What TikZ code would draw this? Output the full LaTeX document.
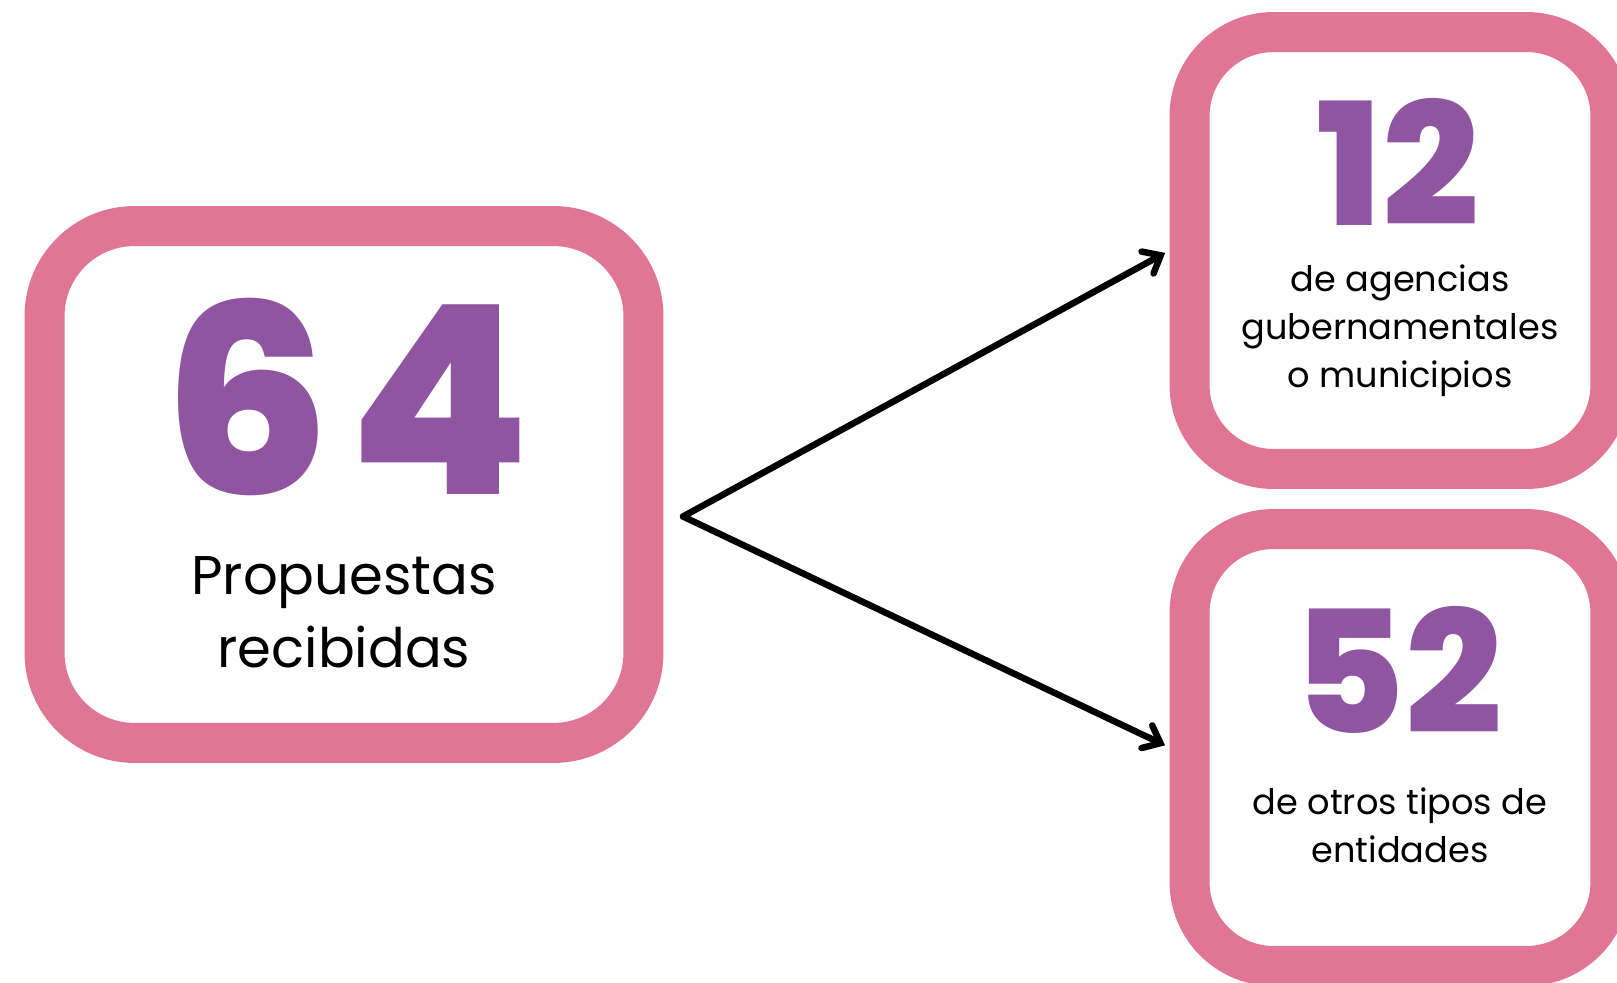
\documentclass[tikz,border=0pt]{standalone}
\usepackage{fontspec}
\setmainfont{Poppins}
\newfontfamily\numfont{Poppins ExtraBold}
\usetikzlibrary{arrows.meta}
\definecolor{cardpink}{HTML}{E07694}
\definecolor{numpurple}{HTML}{8F55A1}

\begin{document}
\begin{tikzpicture}[line cap=round, line join=round, x=0.02cm, y=-0.02cm,
    card/.style={draw=cardpink, line width=0.8cm, fill=white},
    bignum/.style={text=numpurple, anchor=base, inner sep=0pt},
    caption/.style={align=center, anchor=base, inner sep=0pt},
    branch/.style={line width=0.13cm, -{Straight Barb[length=0.3cm, width=0.5cm, line cap=round]}, shorten >=0.1cm}]
                \useasboundingbox (0,0) rectangle (1617,983);
                % the three cards
                \node[card, minimum width=11.98cm, minimum height=10.34cm, rounded corners=1.8cm] (total) at (344,484.5) {};
                \node[card, minimum width=8.42cm, minimum height=8.74cm, rounded corners=1.68cm] (gob) at (1400,250.5) {};
                \node[card, minimum width=8.42cm, minimum height=8.74cm, rounded corners=1.68cm] (otros) at (1400,747.5) {};
                % numbers and captions (base = last line)
                \node[bignum, font=\numfont\fontsize{150}{150}\selectfont] (n64) at (347,494) {6\kern0.07em4};
                \node[caption, font=\fontsize{31}{41.5}\selectfont] (txt64) at (344,667) {Propuestas\\recibidas};
                \node[bignum, font=\numfont\fontsize{97}{97}\selectfont] (n12) at (1398,226) {12};
                \node[caption, font=\fontsize{20}{27.2}\selectfont] (txt12) at (1400,387) {de agencias\\gubernamentales\\o municipios};
                \node[bignum, font=\numfont\fontsize{97}{97}\selectfont] (n52) at (1398,733) {52};
                \node[caption, font=\fontsize{20}{27.2}\selectfont] (txt52) at (1400,862) {de otros tipos de\\entidades};
                % arrows
                \coordinate (split) at (683,516.5);
                \foreach \target in {gob, otros}
                    \draw[branch] (split) -- (\target.west);
            \end{tikzpicture}
\end{document}
